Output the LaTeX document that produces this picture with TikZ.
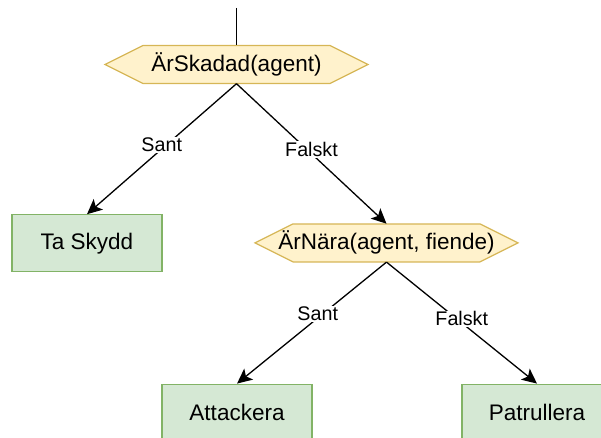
\documentclass[tikz,border=0pt]{standalone}
\usepackage{fontspec}
\setmainfont{Liberation Sans}
\usepackage{xcolor}
\usetikzlibrary{arrows.meta,positioning}
\definecolor{condfill}{HTML}{FFF2CC}
\definecolor{conddraw}{HTML}{D6B656}
\definecolor{actfill}{HTML}{D5E8D4}
\definecolor{actdraw}{HTML}{82B366}

\begin{document}
\begin{tikzpicture}[x=1pt, y=-1pt,
    cond/.style={rectangle, minimum width=266pt, minimum height=40pt, inner sep=0pt, font=\fontsize{22.5}{25}\selectfont,
        path picture={\draw[draw=conddraw, fill=condfill, line width=1.2pt] (path picture bounding box.center) ++(-131.5pt,0pt)
            -- ++(38pt,19pt) -- ++(187pt,0pt) -- ++(38pt,-19pt) -- ++(-38pt,-19pt) -- ++(-187pt,0pt) -- cycle;}},
    act/.style={draw=actdraw, fill=actfill, rectangle, line width=1.2pt, minimum width=150pt, minimum height=57pt, align=center, font=\fontsize{22.5}{25}\selectfont},
    arrow/.style={-{Stealth[length=15pt, width=14pt, inset=3.5pt]}, line width=1.3pt},
    edgelabel/.style={fill=white, inner sep=1pt, yshift=4pt, font=\fontsize{19.7}{22}\selectfont}
]
\clip (0,0) rectangle (601,438);

% Root condition
\coordinate (start) at (236.5,8);
\node[cond] (skadad) at (236.5,64.5) {ÄrSkadad(agent)};

% First level
\node[act, below=129.5pt of skadad, xshift=-149.5pt] (skydd) {Ta Skydd};
\node[cond, below=138pt of skadad, xshift=150pt] (nara) {ÄrNära(agent, fiende)};

% Second level
\node[act, below=120.5pt of nara, xshift=-149.5pt] (attack) {Attackera};
\node[act, below=120.5pt of nara, xshift=150.5pt] (patrull) {Patrullera};

% Arrows
\draw[line width=1.3pt] (start) -- ([yshift=-1pt]skadad.north);
\draw[arrow] ([yshift=1pt]skadad.south) -- (skydd.north) node[midway, edgelabel] {Sant};
\draw[arrow] ([yshift=1pt]skadad.south) -- ([yshift=-1pt]nara.north) node[midway, edgelabel] {Falskt};
\draw[arrow] ([yshift=1pt]nara.south) -- (attack.north) node[pos=0.46, edgelabel] {Sant};
\draw[arrow] ([yshift=1pt]nara.south) -- (patrull.north) node[midway, edgelabel] {Falskt};

\end{tikzpicture}
\end{document}
